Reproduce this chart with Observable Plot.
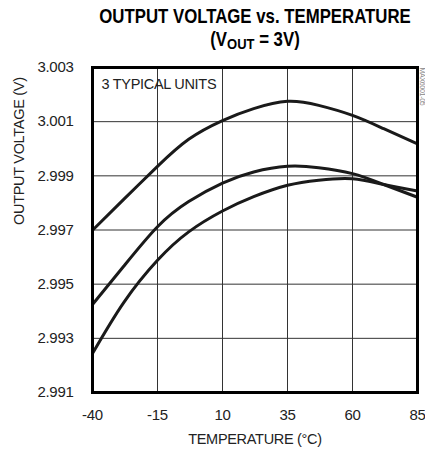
<!DOCTYPE html>
<html>
<head>
<meta charset="utf-8">
<script src="https://cdn.jsdelivr.net/npm/d3@7"></script>
<script src="https://cdn.jsdelivr.net/npm/@observablehq/plot@0.6"></script>
<style>
  html, body { margin: 0; padding: 0; background: #fff; }
  body { width: 425px; height: 456px; overflow: hidden; font-family: "Liberation Sans", Arial, sans-serif; }
  #title { position: relative; width: 425px; height: 50px; }
  .tl { position: absolute; left: 85px; width: 340px; text-align: center; font-weight: bold; font-size: 16.8px; line-height: 20px; color: #000; transform: scaleY(1.17); transform-origin: center; white-space: nowrap; }
  .tl sub { font-size: 13px; vertical-align: -3px; line-height: 0; }
  #chart svg { display: block; }
</style>
</head>
<body>
<div id="title">
  <div class="tl" style="top:7px">OUTPUT VOLTAGE vs. TEMPERATURE</div>
  <div class="tl" style="top:30px">(V<sub>OUT</sub> = 3V)</div>
</div>
<div id="chart"></div>
<script>
const temperature = [-40, -28, -15, -3, 10, 22, 35, 47, 60, 72, 85];
const unit1 = [2.99699, 2.99813, 2.99935, 3.00035, 3.00104, 3.00148, 3.00175, 3.00160, 3.00123, 3.00074, 3.00018];
const unit2 = [2.99425, 2.99566, 2.99712, 2.99805, 2.99873, 2.99914, 2.99935, 2.99930, 2.99908, 2.99868, 2.99821];
const unit3 = [2.99244, 2.99432, 2.99588, 2.99693, 2.99770, 2.99823, 2.99865, 2.99884, 2.99889, 2.99868, 2.99844];
const xTicks = [-40, -15, 10, 35, 60, 85];
const yTicks = [2.991, 2.993, 2.995, 2.997, 2.999, 3.001, 3.003];
const xLabel = "TEMPERATURE (°C)";
const yLabel = "OUTPUT VOLTAGE (V)";
const note = "3 TYPICAL UNITS";
const figId = "MAX6001-05";

const series = [unit1, unit2, unit3];
const rows = series.flatMap((vals, i) => vals.map((v, j) => ({unit: i, t: temperature[j], v})));

const font = '"Liberation Sans", Arial, sans-serif';

const chart = Plot.plot({
  width: 425,
  height: 406,
  marginTop: 17,
  marginBottom: 64,
  marginLeft: 92,
  marginRight: 8,
  style: {fontFamily: font, fontSize: "15px", letterSpacing: "-0.3px", color: "#222", background: "#fff"},
  x: {domain: [-40, 85], ticks: xTicks, tickSize: 0, tickPadding: 17, tickFormat: d => String(d), label: null},
  y: {domain: [2.991, 3.003], ticks: yTicks, tickSize: 0, tickPadding: 19, tickFormat: d3.format(".3f"), label: null},
  marks: [
    Plot.ruleX(xTicks, {stroke: "#333", strokeWidth: 1}),
    Plot.ruleY(yTicks, {stroke: "#333", strokeWidth: 1}),
    Plot.line(rows, {x: "t", y: "v", z: "unit", curve: "natural", stroke: "#1a1a1a", strokeWidth: 3}),
    Plot.frame({stroke: "#000", strokeWidth: 3}),
    Plot.text([note], {frameAnchor: "top-left", dx: 9, dy: 11, textAnchor: "start", lineAnchor: "top", fontSize: 14.5, fill: "#222"}),
    Plot.text([xLabel], {frameAnchor: "bottom", dy: 47, lineAnchor: "middle", fontSize: 14.5, fill: "#222"}),
    Plot.text([yLabel], {frameAnchor: "left", dx: -73, dy: -5, rotate: -90, lineAnchor: "middle", fontSize: 14.5, fill: "#222"}),
    Plot.text([figId], {frameAnchor: "top-right", dx: 5, dy: 0, rotate: 90, textAnchor: "start", lineAnchor: "middle", fontSize: 7, fill: "#888"})
  ]
});
document.getElementById("chart").appendChild(chart);
</script>
</body>
</html>
